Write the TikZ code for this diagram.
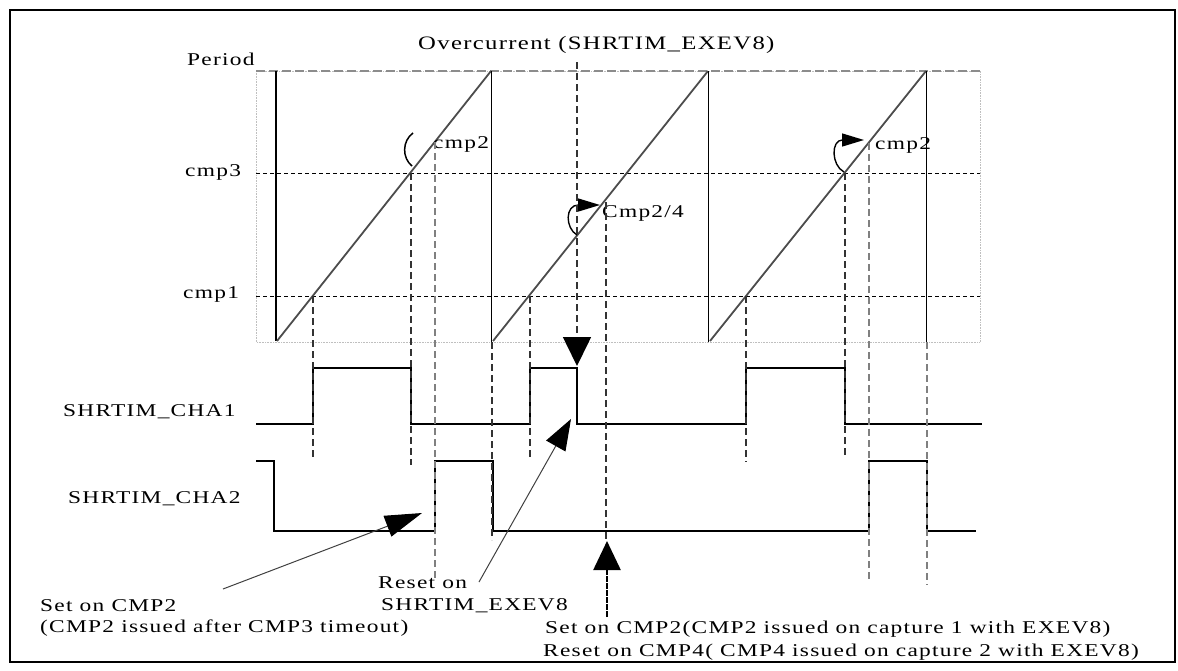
\documentclass[tikz,border=0pt]{standalone}
\usepackage{fontspec}
\setmainfont{Liberation Serif}[FakeStretch=1.3,LetterSpace=7]
\usetikzlibrary{arrows.meta}
\usetikzlibrary{positioning}

\begin{document}
\begin{tikzpicture}[x=1pt,y=-1pt,
  lbl/.style={font=\fontsize{18}{21}\selectfont,inner sep=0pt,anchor=base west},
  wave/.style={line width=2.1pt,line join=miter},
  ramp/.style={line width=1.8pt,black!70},
  reset/.style={line width=0.8pt},
  level/.style={line width=0.8pt,dash pattern=on 4pt off 3pt},
  guide/.style={line width=1.6pt,black!80,dash pattern=on 7pt off 4pt},
  greyguide/.style={line width=1.9pt,black!50,dash pattern=on 7pt off 4pt},
  loop/.style={line width=1.4pt,-{Triangle[length=22pt,width=13pt]}},
  note/.style={line width=1pt,black!75,-{Triangle[length=#1,width=22pt,color=black]}}]

  \useasboundingbox (0,0) rectangle (1178,670);
  \draw[line width=1.2pt] (10,10) rectangle (1175,662);

  % counter window
  \draw[black!25,line width=0.6pt,densely dotted] (256,71) rectangle (980,342);
  \draw[black!45,line width=2.6pt,dash pattern=on 9pt off 4pt] (256,71) -- (980,71);
  \draw[level] (256,173) -- (980,173);
  \draw[level] (256,296) -- (980,296);

  \node[lbl]      (period) at (187,65)  {Period};
  \node[lbl]      (cmpt)   at (185,176) {cmp3};
  \node[lbl]      (cmpo)   at (183,298) {cmp1};
  \node[lbl,font=\fontsize{19}{22}\selectfont] (over) at (418,49) {Overcurrent (SHRTIM\_EXEV8)};

  % sawtooth
  \draw[line width=1.6pt] (276,71) -- (276,341);
  \draw[ramp] (277,341) -- (491,71);
  \draw[reset] (491,71) -- (491,342);
  \draw[ramp] (493,341) -- (708,71);
  \draw[reset] (708,71) -- (708,342);
  \draw[ramp] (710,341) -- (926,71);
  \draw[reset] (926,71) -- (926,342);

  \node[lbl] (cmpa) at (433,148) {cmp2};
  \node[lbl] (cmpb) at (602,217) {Cmp2/4};
  \node[lbl] (cmpc) at (875,149) {cmp2};

  \draw[line width=1.5pt] (413,133) .. controls (402,141) and (402,158) .. (412,166);
  \draw[loop] (577,235) .. controls (565,228) and (565,205) .. (600,205);
  \draw[loop] (844,172) .. controls (831,165) and (831,140) .. (864,140);

  % outputs
  \node[lbl] (chaa) at (63,416) {SHRTIM\_CHA1};
  \node[lbl] (chab) at (68,503) {SHRTIM\_CHA2};

  \draw[wave] (256,424) -- (313,424) -- (313,368) -- (411,368) -- (411,424)
    -- (530,424) -- (530,368) -- (577,368) -- (577,424) -- (746,424)
    -- (746,368) -- (845,368) -- (845,424) -- (982,424);
  \draw[wave] (256,461) -- (274,461) -- (274,531) -- (435,531) -- (435,461)
    -- (493,461) -- (493,531) -- (869,531) -- (869,461) -- (927,461)
    -- (927,531) -- (976,531);

  % guides
  \draw[guide] (313,296) -- (313,460);
  \draw[guide] (411,173) -- (411,465);
  \draw[guide] (492,342) -- (492,540);
  \draw[guide] (530,296) -- (530,460);
  \draw[guide] (746,296) -- (746,462);
  \draw[guide] (845,173) -- (845,458);
  \draw[guide,line width=1.2pt] (606,202) -- (606,540);
  \draw[greyguide] (435,142) -- (435,580);
  \draw[greyguide] (869,143) -- (869,582);
  \draw[greyguide] (927,342) -- (927,585);

  % external event
  \coordinate (evtop) at (577,62);
  \coordinate (evhit) at (577,366);
  \draw[guide,-{Triangle[length=29pt,width=28pt,color=black]}] (evtop) -- (evhit);

  \coordinate (capfoot) at (607,617);
  \coordinate (caphit)  at (607,541);
  \draw[line width=2.4pt,dash pattern=on 6pt off 1pt,-{Triangle[length=29pt,width=27pt]}] (capfoot) -- (caphit);

  % notes
  \node[lbl] (seta)  at (40,611)  {Set on CMP2};
  \node[lbl] (setb)  at (40,632)  {(CMP2 issued after CMP3 timeout)};
  \coordinate (seta tail) at (223,589);
  \coordinate (seta tip)  at (422,513);
  \draw[note=37pt] (seta tail) -- (seta tip);

  \node[lbl] (rsta) at (378,588) {Reset on};
  \node[lbl] (rstb) at (381,610) {SHRTIM\_EXEV8};
  \coordinate (rst tail) at (479,582);
  \coordinate (rst tip)  at (571,419);
  \draw[note=31pt] (rst tail) -- (rst tip);

  \node[lbl] (capa) at (545,633) {Set on CMP2(CMP2 issued on capture 1 with EXEV8)};
  \node[lbl] (capb) at (543,656) {Reset on CMP4( CMP4 issued on capture 2 with EXEV8)};
\end{tikzpicture}
\end{document}
